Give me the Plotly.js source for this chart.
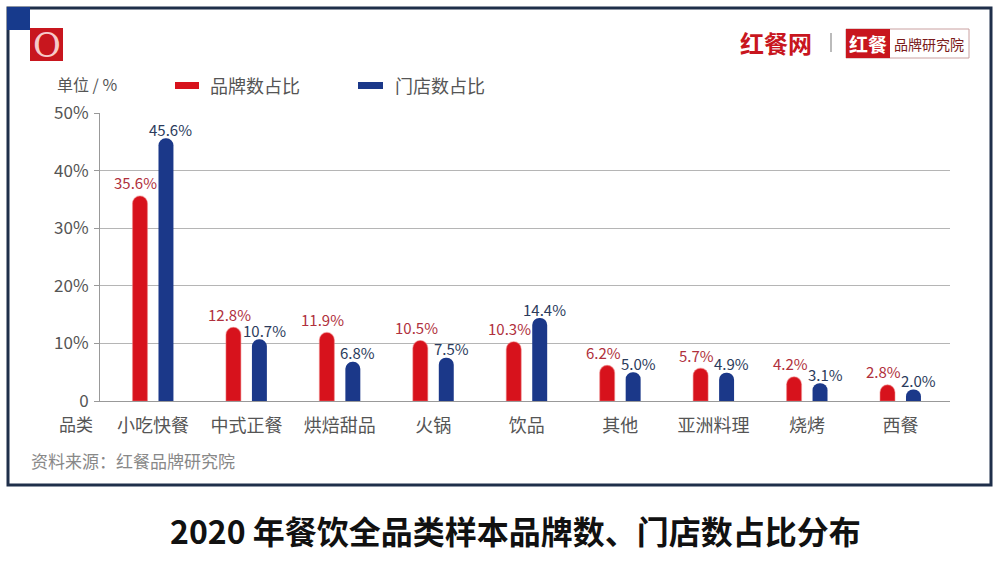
<!DOCTYPE html>
<html>
<head>
<meta charset="utf-8">
<script src="https://cdn.plot.ly/plotly-3.0.1.min.js"></script>
<style>html,body{margin:0;padding:0;background:#fff;}#chart{width:1000px;height:570px;}</style>
</head>
<body>
<div id="chart"></div>
<script>
const categories = ['小吃快餐','中式正餐','烘焙甜品','火锅','饮品','其他','亚洲料理','烧烤','西餐'];
const brandShare = [35.6, 12.8, 11.9, 10.5, 10.3, 6.2, 5.7, 4.2, 2.8];
const storeShare = [45.6, 10.7, 6.8, 7.5, 14.4, 5.0, 4.9, 3.1, 2.0];
const seriesNames = ['品牌数占比','门店数占比'];
const yTickVals = [0, 10, 20, 30, 40, 50];
const yTickText = ['0','10%','20%','30%','40%','50%'];

const FONT = 'Noto Sans CJK SC, Noto Sans, sans-serif';
const RED = '#d7121c';
const BLUE = '#1b3889';

// plot area in pixels
const L = 100, R = 950, T = 113, B = 401;
const px = v => (v - L) / (R - L);
const py = v => (B - v) / (B - T);

const BAR_W = 0.16, RED_OFF = -0.219, BLUE_OFF = 0.059;
const PX_PER_CAT = (R - L) / (8.53 + 0.567);

const traceCommon = {
  type: 'bar', x: categories, width: BAR_W, hoverinfo: 'skip', showlegend: false
};
const traces = [
  Object.assign({}, traceCommon, {
    name: seriesNames[0], y: brandShare, offset: RED_OFF,
    marker: {color: RED, cornerradius: '50%', line: {color: 'rgba(240,130,130,0.45)', width: 1.2}}
  }),
  Object.assign({}, traceCommon, {
    name: seriesNames[1], y: storeShare, offset: BLUE_OFF,
    marker: {color: BLUE, cornerradius: '50%'}
  })
];

const shapes = [
  {type:'rect', xref:'paper', yref:'paper', x0:px(8), x1:px(991), y0:py(485), y1:py(8), line:{color:'#1f2f4a', width:3}, fillcolor:'rgba(0,0,0,0)', layer:'below'},
  {type:'rect', xref:'paper', yref:'paper', x0:px(7), x1:px(30), y0:py(30), y1:py(7), line:{width:0}, fillcolor:'#173a8c'},
  {type:'rect', xref:'paper', yref:'paper', x0:px(30), x1:px(63), y0:py(61), y1:py(28), line:{width:0}, fillcolor:'#c8161e'},
  {type:'rect', xref:'paper', yref:'paper', x0:px(175), x1:px(199), y0:py(89), y1:py(82), line:{width:0}, fillcolor:RED},
  {type:'rect', xref:'paper', yref:'paper', x0:px(358), x1:px(383), y0:py(89), y1:py(82), line:{width:0}, fillcolor:BLUE},
  {type:'line', xref:'paper', yref:'paper', x0:px(831), x1:px(831), y0:py(52), y1:py(33), line:{color:'#bbbbbb', width:2}},
  {type:'rect', xref:'paper', yref:'paper', x0:px(846), x1:px(969), y0:py(58), y1:py(29), line:{color:'#c9a0a0', width:1}, fillcolor:'#ffffff'},
  {type:'rect', xref:'paper', yref:'paper', x0:px(846), x1:px(890), y0:py(58), y1:py(29), line:{width:0}, fillcolor:'#c8161e'}
];

const ann = (text, x, y, opts) => Object.assign({
  text, xref:'paper', yref:'paper', x:px(x), y:py(y), showarrow:false,
  xanchor:'left', yanchor:'middle', font:{family:FONT, size:16, color:'#555'}
}, opts || {});

const annotations = [
  ann('O', 46.5, 45, {xanchor:'center', font:{family:'DejaVu Serif, Liberation Serif, serif', size:34, color:'#f6caca'}}),
  ann('单位 / %', 55, 84, {font:{family:FONT, size:16, color:'#555'}}),
  ann(seriesNames[0], 208, 85, {font:{family:FONT, size:18, color:'#555'}}),
  ann(seriesNames[1], 393, 85, {font:{family:FONT, size:18, color:'#555'}}),
  ann('品类', 76, 423, {xanchor:'center', font:{family:FONT, size:17, color:'#555'}}),
  ann('资料来源：红餐品牌研究院', 29, 460, {font:{family:FONT, size:17, color:'#888'}}),
  ann('<b>2020 年餐饮全品类样本品牌数、门店数占比分布</b>', 515, 530, {xanchor:'center', font:{family:FONT, size:32, color:'#111'}}),
  ann('<b>红餐网</b>', 738, 42, {font:{family:FONT, size:24, color:'#c8161e'}}),
  ann('<b>红餐</b>', 868, 43.5, {xanchor:'center', font:{family:FONT, size:19, color:'#ffffff'}}),
  ann('品牌研究院', 929, 43.5, {xanchor:'center', font:{family:FONT, size:14, color:'#7a1a1a'}})
];

// value labels, anchored on each bar through the axes
const redCenterPx = (RED_OFF + BAR_W / 2) * PX_PER_CAT;
const blueCenterPx = (BLUE_OFF + BAR_W / 2) * PX_PER_CAT;
categories.forEach((c, i) => {
  annotations.push({
    x: c, y: brandShare[i], xref: 'x', yref: 'y', showarrow: false,
    text: brandShare[i].toFixed(1) + '%', xanchor: 'center', yanchor: 'middle',
    xshift: redCenterPx - 4, yshift: 13,
    font: {family: FONT, size: 15, color: '#b0303c'}
  });
  annotations.push({
    x: c, y: storeShare[i], xref: 'x', yref: 'y', showarrow: false,
    text: storeShare[i].toFixed(1) + '%', xanchor: 'center', yanchor: 'middle',
    xshift: blueCenterPx + 5, yshift: 9,
    font: {family: FONT, size: 15, color: '#2b3b5c'}
  });
});

const layout = {
  width: 1000, height: 570,
  margin: {l: L, r: 1000 - R, t: T, b: 570 - B, pad: 0},
  paper_bgcolor: '#fff', plot_bgcolor: '#fff',
  font: {family: FONT, color: '#555'},
  barmode: 'overlay',
  showlegend: false,
  xaxis: {
    type: 'category', range: [-0.567, 8.53], fixedrange: true,
    showline: true, linecolor: '#999', linewidth: 1,
    showgrid: false, zeroline: false, ticks: '',
    tickfont: {family: FONT, size: 18, color: '#555'}, ticklabelstandoff: 8
  },
  yaxis: {
    range: [0, 50], fixedrange: true,
    tickvals: yTickVals, ticktext: yTickText,
    showgrid: true, gridcolor: '#b5b5b5', gridwidth: 1,
    zeroline: false, showline: true, linecolor: '#999', linewidth: 1,
    ticks: 'outside', ticklen: 5, tickcolor: '#999',
    tickfont: {family: FONT, size: 17, color: '#555'}, ticklabelstandoff: 2
  },
  shapes, annotations
};

Plotly.newPlot('chart', traces, layout, {displayModeBar: false, staticPlot: true});
</script>
</body>
</html>
